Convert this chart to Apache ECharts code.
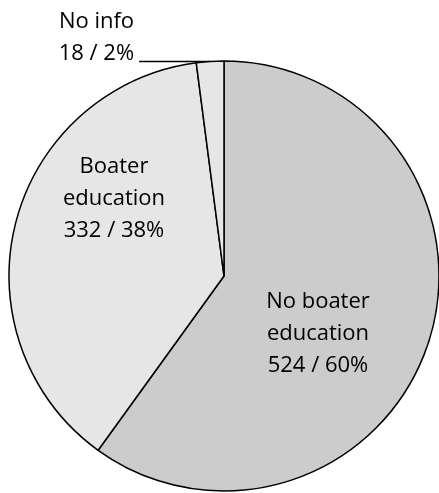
<!DOCTYPE html>
<html>
<head>
<meta charset="utf-8">
<script src="https://cdn.jsdelivr.net/npm/echarts@6/dist/echarts.min.js"></script>
<style>
html,body{margin:0;padding:0;background:#fff;}
#chart{width:439px;height:493px;}
</style>
</head>
<body>
<div id="chart"></div>
<script>
// Data
const categories = ['No boater\neducation', 'Boater\neducation', 'No info'];
const counts = [524, 332, 18];

// Styles (separate from data)
const sliceColors = ['#cccccc', '#e6e6e6', '#e6e6e6'];
const labelPositions = ['inside', 'inside', 'outside'];
const insideLabelCenters = { 0: [318, 334], 1: [114, 199] };

const chart = echarts.init(document.getElementById('chart'), null, { renderer: 'canvas' });

const seriesData = categories.map((name, i) => ({
  name: name,
  value: counts[i],
  itemStyle: { color: sliceColors[i] },
  label: labelPositions[i] === 'outside'
    ? {
        position: 'outside',
        formatter: '{t|{b}}\n{t|{c} / {d}%}\n{gap| }',
        rich: {
          t: { fontFamily: 'Open Sans', fontSize: 22, lineHeight: 32, color: '#000' },
          gap: { fontSize: 10, lineHeight: 48 }
        }
      }
    : { position: 'inside' },
  labelLine: labelPositions[i] === 'outside'
    ? { show: true, length: 0, length2: 71, lineStyle: { color: '#000', width: 1.5 } }
    : { show: false }
}));

chart.setOption({
  animation: false,
  backgroundColor: '#ffffff',
  series: [{
    type: 'pie',
    center: [224, 276],
    radius: 215,
    startAngle: 90,
    clockwise: true,
    percentPrecision: 0,
    avoidLabelOverlap: false,
    silent: true,
    emphasis: { disabled: true },
    itemStyle: { borderColor: '#000', borderWidth: 1.5 },
    label: {
      show: true,
      formatter: '{b}\n{c} / {d}%',
      fontFamily: 'Open Sans',
      fontSize: 22,
      lineHeight: 32,
      color: '#000',
      align: 'center'
    },
    labelLayout: function (params) {
      const p = insideLabelCenters[params.dataIndex];
      if (p) return { x: p[0], y: p[1], align: 'center', verticalAlign: 'middle' };
      return {};
    },
    data: seriesData
  }]
});
</script>
</body>
</html>
